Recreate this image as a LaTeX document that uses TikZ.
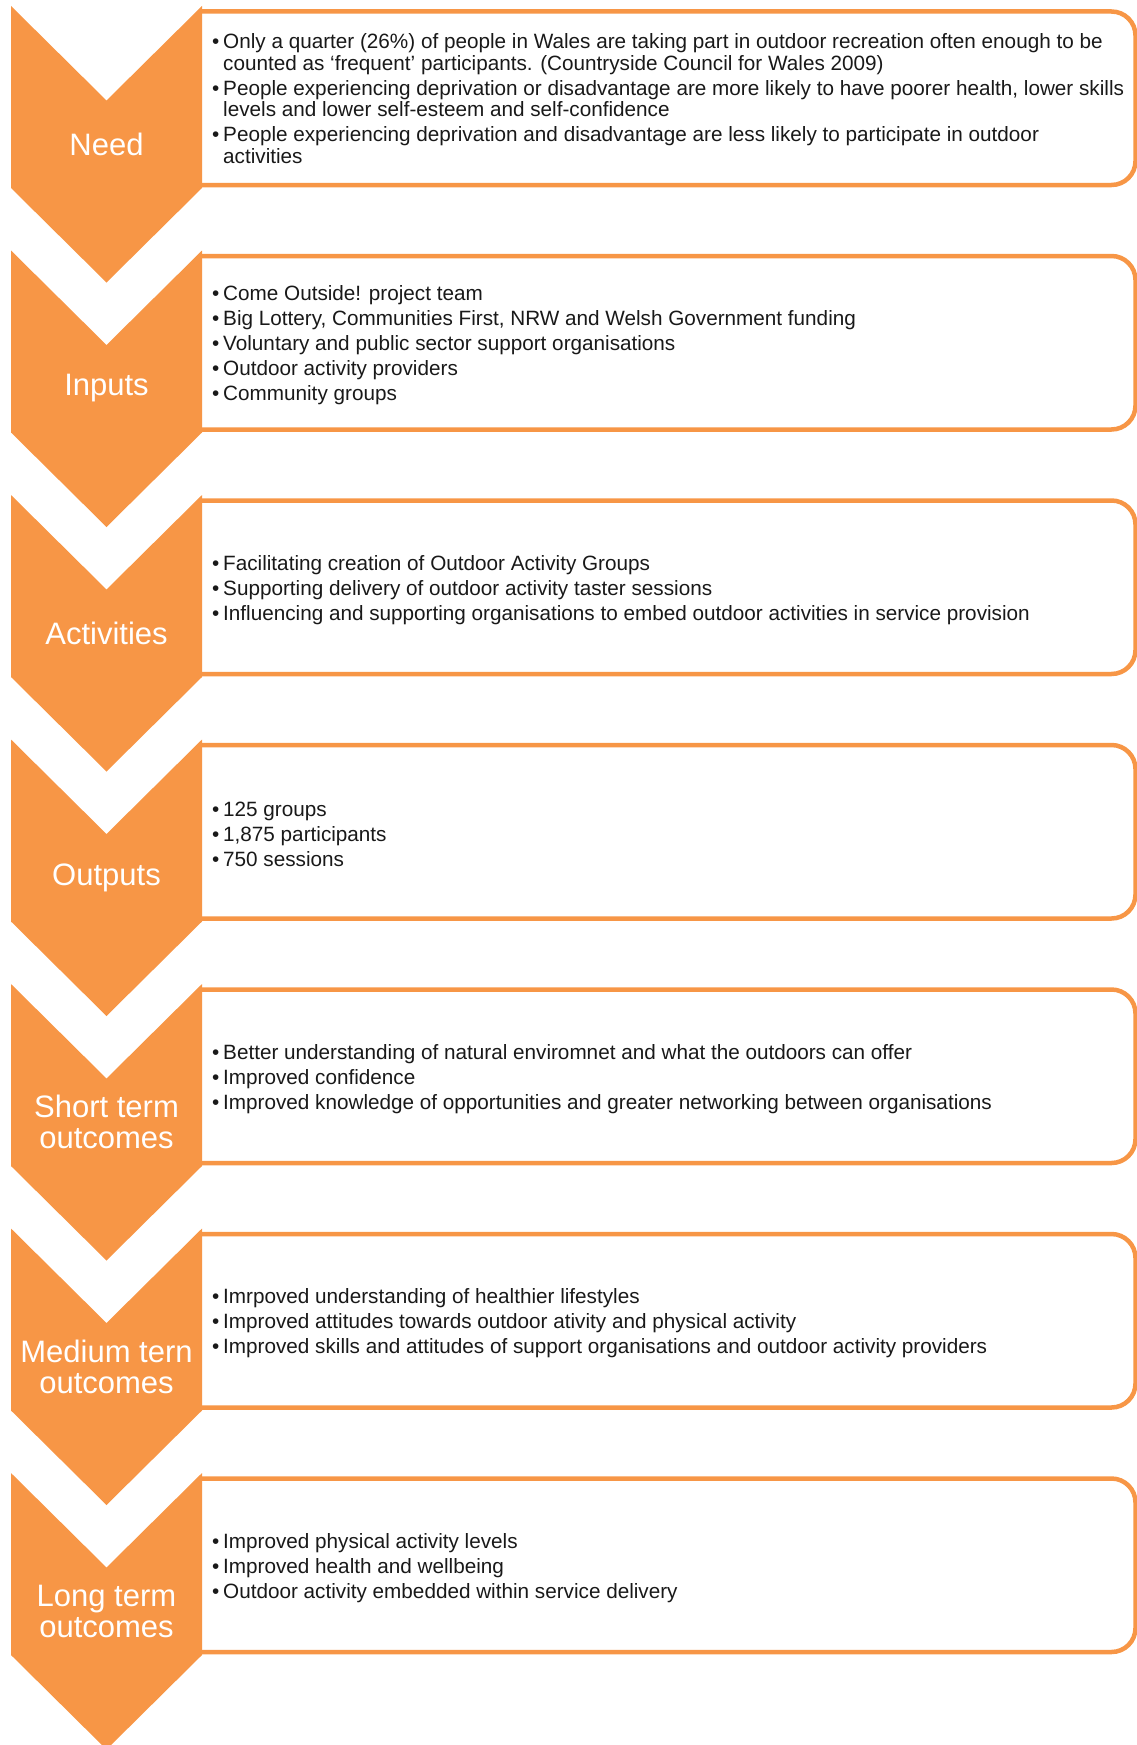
\documentclass[tikz,border=0pt]{standalone}
\usepackage{fontspec}
\setmainfont{Liberation Sans}
\definecolor{org}{HTML}{F79646}
\newcommand\bl{\makebox[11pt][l]{\textbullet}}
\newcommand\cont{\hspace*{11pt}}
\newcommand\stage[5]{%
  \pgfmathsetmacro\yo{6+244.5*#1}
  \fill[white] (200,\yo+5.5) -- (1111.5,\yo+5.5) arc[start angle=-90,end angle=0,radius=24]
     -- (1135.5,\yo+155) arc[start angle=0,end angle=90,radius=24] -- (200,\yo+179) -- cycle;
  \draw[card] (200,\yo+5.5) -- (1111.5,\yo+5.5) arc[start angle=-90,end angle=0,radius=24]
     -- (1135.5,\yo+155) arc[start angle=0,end angle=90,radius=24] -- (200,\yo+179);
  \fill[chevron] (11,\yo) -- (106.5,\yo+94.5) -- (202,\yo) -- (202,\yo+182)
     -- (106.5,\yo+276.5) -- (11,\yo+182) -- cycle;
  \node[lbl] (lab#2) at (106.5,\yo+138) {#3};
  \node[items] (txt#2) at (212,\yo+#5) {#4};
}
\begin{document}
\begin{tikzpicture}[x=1pt,y=-1pt,
  chevron/.style={fill=org},
  card/.style={draw=org, line width=4.5pt, line cap=butt},
  lbl/.style={text=white, font=\fontsize{31}{31}\selectfont, align=center, inner sep=0},
  items/.style={font=\fontsize{20.7}{21.5}\selectfont, align=left, inner sep=0, anchor=west, text=black!90}]
\useasboundingbox (0,0) rectangle (1137,1745);
\clip (0,0) rectangle (1137,1745);
\stage{0}{need}{Need}{\bl Only a quarter (26\%) of people in Wales are taking part in outdoor recreation often enough to be\\
\cont counted as ‘frequent’ participants. (Countryside Council for Wales 2009)\\[3.5pt]
\bl People experiencing deprivation or disadvantage are more likely to have poorer health, lower skills\\
\cont levels and lower self-esteem and self-confidence\\[3.5pt]
\bl People experiencing deprivation and disadvantage are less likely to participate in outdoor\\
\cont activities}{92.5}
\stage{1}{inputs}{Inputs}{\bl Come Outside! project team\\[3.5pt]
\bl Big Lottery, Communities First, NRW and Welsh Government funding\\[3.5pt]
\bl Voluntary and public sector support organisations\\[3.5pt]
\bl Outdoor activity providers\\[3.5pt]
\bl Community groups}{95}
\stage{2}{activities}{Activities}{\bl Facilitating creation of Outdoor Activity Groups\\[3.5pt]
\bl Supporting delivery of outdoor activity taster sessions\\[3.5pt]
\bl Influencing and supporting organisations to embed outdoor activities in service provision}{95}
\stage{3}{outputs}{Outputs}{\bl 125 groups\\[3.5pt]
\bl 1,875 participants\\[3.5pt]
\bl 750 sessions}{95}
\stage{4}{short}{Short term\\outcomes}{\bl Better understanding of natural enviromnet and what the outdoors can offer\\[3.5pt]
\bl Improved confidence\\[3.5pt]
\bl Improved knowledge of opportunities and greater networking between organisations}{95}
\stage{5}{medium}{Medium tern\\outcomes}{\bl Imrpoved understanding of healthier lifestyles\\[3.5pt]
\bl Improved attitudes towards outdoor ativity and physical activity\\[3.5pt]
\bl Improved skills and attitudes of support organisations and outdoor activity providers}{95}
\stage{6}{long}{Long term\\outcomes}{\bl Improved physical activity levels\\[3.5pt]
\bl Improved health and wellbeing\\[3.5pt]
\bl Outdoor activity embedded within service delivery}{95}
\end{tikzpicture}
\end{document}
